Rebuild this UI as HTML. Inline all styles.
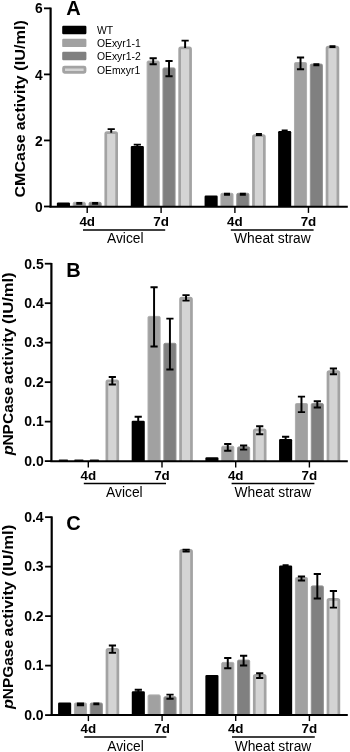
<!DOCTYPE html><html><head><meta charset="utf-8"><style>html,body{margin:0;padding:0;background:#fff}svg{display:block;will-change:transform;filter:grayscale(1)}text{font-family:"Liberation Sans",sans-serif;fill:#000}</style></head><body>
<svg width="350" height="752" viewBox="0 0 350 752">
<rect width="350" height="752" fill="#fff"/>
<clipPath id="cpA"><rect x="0" y="-11.65" width="350" height="218.15"/></clipPath><g clip-path="url(#cpA)">
<rect x="56.88" y="202.40" width="13.10" height="8.10" rx="1.2" fill="#000000"/>
<rect x="73.23" y="202.30" width="12.10" height="8.70" rx="1.2" fill="#a1a1a1" stroke="#adadad" stroke-width="1.0"/>
<path d="M76.28 203.00H82.28M76.28 203.80H82.28M79.28 203.00V203.80" stroke="#000" stroke-width="1.95" fill="none"/>
<rect x="89.08" y="202.30" width="12.10" height="8.70" rx="1.2" fill="#808080" stroke="#939393" stroke-width="1.0"/>
<path d="M92.12 203.00H98.12M92.12 203.80H98.12M95.12 203.00V203.80" stroke="#000" stroke-width="1.95" fill="none"/>
<rect x="105.77" y="132.65" width="10.90" height="79.20" rx="1.2" fill="#d4d4d4" stroke="#a3a3a3" stroke-width="2.7"/>
<path d="M107.62 129.10H114.82M111.22 129.10V132.80" stroke="#000" stroke-width="1.95" fill="none"/>
<rect x="130.77" y="145.90" width="13.10" height="64.60" rx="1.2" fill="#000000"/>
<path d="M133.72 144.60H140.92M133.72 147.20H140.92M137.32 144.60V147.20" stroke="#000" stroke-width="1.95" fill="none"/>
<rect x="147.12" y="61.00" width="12.10" height="150.00" rx="1.2" fill="#a1a1a1" stroke="#adadad" stroke-width="1.0"/>
<path d="M149.57 58.30H156.77M149.57 64.30H156.77M153.17 58.30V64.30" stroke="#000" stroke-width="1.95" fill="none"/>
<rect x="162.97" y="67.90" width="12.10" height="143.10" rx="1.2" fill="#808080" stroke="#939393" stroke-width="1.0"/>
<path d="M165.43 60.90H172.62M165.43 76.30H172.62M169.03 60.90V76.30" stroke="#000" stroke-width="1.95" fill="none"/>
<rect x="179.67" y="47.95" width="10.90" height="163.90" rx="1.2" fill="#d4d4d4" stroke="#a3a3a3" stroke-width="2.7"/>
<path d="M181.53 40.60H188.72M185.12 40.60V48.10" stroke="#000" stroke-width="1.95" fill="none"/>
<rect x="204.57" y="195.60" width="13.10" height="14.90" rx="1.2" fill="#000000"/>
<rect x="220.92" y="193.30" width="12.10" height="17.70" rx="1.2" fill="#a1a1a1" stroke="#adadad" stroke-width="1.0"/>
<path d="M223.97 193.80H229.97M223.97 194.80H229.97M226.97 193.80V194.80" stroke="#000" stroke-width="1.95" fill="none"/>
<rect x="236.78" y="193.30" width="12.10" height="17.70" rx="1.2" fill="#808080" stroke="#939393" stroke-width="1.0"/>
<path d="M239.83 193.80H245.83M239.83 194.80H245.83M242.83 193.80V194.80" stroke="#000" stroke-width="1.95" fill="none"/>
<rect x="253.47" y="135.65" width="10.90" height="76.20" rx="1.2" fill="#d4d4d4" stroke="#a3a3a3" stroke-width="2.7"/>
<path d="M255.93 134.00H261.93M255.93 135.00H261.93M258.93 134.00V135.00" stroke="#000" stroke-width="1.95" fill="none"/>
<rect x="278.12" y="131.00" width="13.10" height="79.50" rx="1.2" fill="#000000"/>
<path d="M281.68 130.40H287.68M281.68 131.70H287.68M284.68 130.40V131.70" stroke="#000" stroke-width="1.95" fill="none"/>
<rect x="294.47" y="62.50" width="12.10" height="148.50" rx="1.2" fill="#a1a1a1" stroke="#adadad" stroke-width="1.0"/>
<path d="M296.92 57.40H304.12M296.92 69.30H304.12M300.52 57.40V69.30" stroke="#000" stroke-width="1.95" fill="none"/>
<rect x="310.32" y="64.10" width="12.10" height="146.90" rx="1.2" fill="#808080" stroke="#939393" stroke-width="1.0"/>
<path d="M313.38 64.30H319.38M313.38 65.30H319.38M316.38 64.30V65.30" stroke="#000" stroke-width="1.95" fill="none"/>
<rect x="327.02" y="47.05" width="10.90" height="164.80" rx="1.2" fill="#d4d4d4" stroke="#a3a3a3" stroke-width="2.7"/>
<path d="M329.47 46.20H335.47M329.47 46.90H335.47M332.47 46.20V46.90" stroke="#000" stroke-width="1.95" fill="none"/>
</g>
<path d="M50.6 7.60V207.25" stroke="#000" stroke-width="2.2" fill="none"/>
<path d="M49.50 206.5H347.8" stroke="#000" stroke-width="2.0" transform="translate(0 0.25)" fill="none"/>
<path d="M44.00 8.35H50.6" stroke="#000" stroke-width="1.8"/>
<text x="42.7" y="13.45" font-size="13.8" font-weight="bold" text-anchor="end">6</text>
<path d="M44.00 74.40H50.6" stroke="#000" stroke-width="1.8"/>
<text x="42.7" y="79.50" font-size="13.8" font-weight="bold" text-anchor="end">4</text>
<path d="M44.00 140.45H50.6" stroke="#000" stroke-width="1.8"/>
<text x="42.7" y="145.55" font-size="13.8" font-weight="bold" text-anchor="end">2</text>
<path d="M44.00 206.50H50.6" stroke="#000" stroke-width="1.8"/>
<text x="42.7" y="211.60" font-size="13.8" font-weight="bold" text-anchor="end">0</text>
<path d="M87.20 206.5V212.90" stroke="#000" stroke-width="1.4"/>
<text x="87.20" y="225.80" font-size="13.4" font-weight="bold" text-anchor="middle">4d</text>
<path d="M161.10 206.5V212.90" stroke="#000" stroke-width="1.4"/>
<text x="161.10" y="225.80" font-size="13.4" font-weight="bold" text-anchor="middle">7d</text>
<path d="M234.90 206.5V212.90" stroke="#000" stroke-width="1.4"/>
<text x="234.90" y="225.80" font-size="13.4" font-weight="bold" text-anchor="middle">4d</text>
<path d="M308.45 206.5V212.90" stroke="#000" stroke-width="1.4"/>
<text x="308.45" y="225.80" font-size="13.4" font-weight="bold" text-anchor="middle">7d</text>
<path d="M83.00 230.10H165.20" stroke="#000" stroke-width="1.5"/>
<path d="M230.80 230.10H313.60" stroke="#000" stroke-width="1.5"/>
<text x="125.3" y="242.80" font-size="13.8" text-anchor="middle">Avicel</text>
<text x="272.4" y="242.80" font-size="13.8" text-anchor="middle">Wheat straw</text>
<text x="66.3" y="14.7" font-size="20" font-weight="bold">A</text>
<text transform="translate(24.8 197.5) rotate(-90) scale(1.1 1)" font-size="14.6" font-weight="bold" >CMCase</text>
<text transform="translate(24.8 130.3) rotate(-90) scale(1.0899 1)" font-size="14.6" font-weight="bold" >activity</text>
<text transform="translate(24.8 70.7) rotate(-90) scale(1.1161 1)" font-size="14.6" font-weight="bold" >(IU/ml)</text>
<clipPath id="cpB"><rect x="0" y="243.70" width="350" height="217.40"/></clipPath><g clip-path="url(#cpB)">
<rect x="57.98" y="461.00" width="13.10" height="4.10" rx="1.2" fill="#000000"/>
<rect x="73.83" y="461.00" width="13.10" height="4.10" rx="1.2" fill="#a1a1a1"/>
<rect x="89.67" y="461.00" width="13.10" height="4.10" rx="1.2" fill="#808080"/>
<rect x="106.87" y="380.85" width="10.90" height="85.60" rx="1.2" fill="#d4d4d4" stroke="#a3a3a3" stroke-width="2.7"/>
<path d="M108.72 376.90H115.92M108.72 384.40H115.92M112.32 376.90V384.40" stroke="#000" stroke-width="1.95" fill="none"/>
<rect x="131.67" y="420.80" width="13.10" height="44.30" rx="1.2" fill="#000000"/>
<path d="M134.62 416.80H141.82M134.62 424.50H141.82M138.22 416.80V424.50" stroke="#000" stroke-width="1.95" fill="none"/>
<rect x="148.02" y="316.40" width="12.10" height="149.20" rx="1.2" fill="#a1a1a1" stroke="#adadad" stroke-width="1.0"/>
<path d="M150.47 287.20H157.67M150.47 346.50H157.67M154.07 287.20V346.50" stroke="#000" stroke-width="1.95" fill="none"/>
<rect x="163.88" y="343.30" width="12.10" height="122.30" rx="1.2" fill="#808080" stroke="#939393" stroke-width="1.0"/>
<path d="M166.33 318.60H173.53M166.33 369.50H173.53M169.93 318.60V369.50" stroke="#000" stroke-width="1.95" fill="none"/>
<rect x="180.57" y="298.05" width="10.90" height="168.40" rx="1.2" fill="#d4d4d4" stroke="#a3a3a3" stroke-width="2.7"/>
<path d="M182.43 295.10H189.62M182.43 300.60H189.62M186.03 295.10V300.60" stroke="#000" stroke-width="1.95" fill="none"/>
<rect x="205.37" y="457.30" width="13.10" height="7.80" rx="1.2" fill="#000000"/>
<rect x="221.72" y="446.20" width="12.10" height="19.40" rx="1.2" fill="#a1a1a1" stroke="#adadad" stroke-width="1.0"/>
<path d="M224.17 444.00H231.37M224.17 450.70H231.37M227.77 444.00V450.70" stroke="#000" stroke-width="1.95" fill="none"/>
<rect x="237.57" y="446.90" width="12.10" height="18.70" rx="1.2" fill="#808080" stroke="#939393" stroke-width="1.0"/>
<path d="M240.03 445.50H247.22M240.03 449.60H247.22M243.62 445.50V449.60" stroke="#000" stroke-width="1.95" fill="none"/>
<rect x="254.27" y="429.95" width="10.90" height="36.50" rx="1.2" fill="#d4d4d4" stroke="#a3a3a3" stroke-width="2.7"/>
<path d="M256.12 426.30H263.32M256.12 434.30H263.32M259.72 426.30V434.30" stroke="#000" stroke-width="1.95" fill="none"/>
<rect x="279.07" y="439.00" width="13.10" height="26.10" rx="1.2" fill="#000000"/>
<path d="M282.02 436.70H289.23M282.02 441.00H289.23M285.62 436.70V441.00" stroke="#000" stroke-width="1.95" fill="none"/>
<rect x="295.42" y="403.50" width="12.10" height="62.10" rx="1.2" fill="#a1a1a1" stroke="#adadad" stroke-width="1.0"/>
<path d="M297.87 396.60H305.07M297.87 412.10H305.07M301.47 396.60V412.10" stroke="#000" stroke-width="1.95" fill="none"/>
<rect x="311.27" y="403.50" width="12.10" height="62.10" rx="1.2" fill="#808080" stroke="#939393" stroke-width="1.0"/>
<path d="M313.72 401.20H320.93M313.72 407.50H320.93M317.32 401.20V407.50" stroke="#000" stroke-width="1.95" fill="none"/>
<rect x="327.97" y="371.65" width="10.90" height="94.80" rx="1.2" fill="#d4d4d4" stroke="#a3a3a3" stroke-width="2.7"/>
<path d="M329.82 368.50H337.02M329.82 374.20H337.02M333.42 368.50V374.20" stroke="#000" stroke-width="1.95" fill="none"/>
<rect x="58.80" y="459.5" width="9.2" height="1.6" rx="0.6" fill="#1a1a1a"/>
<rect x="74.30" y="459.5" width="9.2" height="1.6" rx="0.6" fill="#1a1a1a"/>
<rect x="89.80" y="459.5" width="9.2" height="1.6" rx="0.6" fill="#1a1a1a"/>
</g>
<path d="M51.4 262.95V461.85" stroke="#000" stroke-width="2.2" fill="none"/>
<path d="M50.30 461.1H347.8" stroke="#000" stroke-width="2.0" transform="translate(0 0.1)" fill="none"/>
<path d="M44.80 263.70H51.4" stroke="#000" stroke-width="1.8"/>
<text x="43.8" y="268.50" font-size="14.0" font-weight="bold" text-anchor="end">0.5</text>
<path d="M44.80 303.18H51.4" stroke="#000" stroke-width="1.8"/>
<text x="43.8" y="307.98" font-size="14.0" font-weight="bold" text-anchor="end">0.4</text>
<path d="M44.80 342.66H51.4" stroke="#000" stroke-width="1.8"/>
<text x="43.8" y="347.46" font-size="14.0" font-weight="bold" text-anchor="end">0.3</text>
<path d="M44.80 382.14H51.4" stroke="#000" stroke-width="1.8"/>
<text x="43.8" y="386.94" font-size="14.0" font-weight="bold" text-anchor="end">0.2</text>
<path d="M44.80 421.62H51.4" stroke="#000" stroke-width="1.8"/>
<text x="43.8" y="426.42" font-size="14.0" font-weight="bold" text-anchor="end">0.1</text>
<path d="M44.80 461.10H51.4" stroke="#000" stroke-width="1.8"/>
<text x="43.8" y="465.90" font-size="14.0" font-weight="bold" text-anchor="end">0.0</text>
<path d="M88.30 461.1V467.50" stroke="#000" stroke-width="1.4"/>
<text x="88.30" y="479.70" font-size="13.4" font-weight="bold" text-anchor="middle">4d</text>
<path d="M162.00 461.1V467.50" stroke="#000" stroke-width="1.4"/>
<text x="162.00" y="479.70" font-size="13.4" font-weight="bold" text-anchor="middle">7d</text>
<path d="M235.70 461.1V467.50" stroke="#000" stroke-width="1.4"/>
<text x="235.70" y="479.70" font-size="13.4" font-weight="bold" text-anchor="middle">4d</text>
<path d="M309.40 461.1V467.50" stroke="#000" stroke-width="1.4"/>
<text x="309.40" y="479.70" font-size="13.4" font-weight="bold" text-anchor="middle">7d</text>
<path d="M83.80 483.60H166.00" stroke="#000" stroke-width="1.5"/>
<path d="M231.60 483.60H314.40" stroke="#000" stroke-width="1.5"/>
<text x="124.4" y="496.50" font-size="13.8" text-anchor="middle">Avicel</text>
<text x="272.9" y="496.50" font-size="13.8" text-anchor="middle">Wheat straw</text>
<text x="66.3" y="276.7" font-size="20" font-weight="bold">B</text>
<text transform="translate(13.2 455.3) rotate(-90) scale(1.1169 1)" font-size="14.6" font-weight="bold"  font-style="italic">p</text>
<text transform="translate(13.2 445.6) rotate(-90) scale(1.0643 1)" font-size="14.6" font-weight="bold" >NPCase</text>
<text transform="translate(13.2 384.1) rotate(-90) scale(1.1147 1)" font-size="14.6" font-weight="bold" >activity</text>
<text transform="translate(13.2 324.0) rotate(-90) scale(1.1388 1)" font-size="14.6" font-weight="bold" >(IU/ml)</text>
<clipPath id="cpC"><rect x="0" y="497.15" width="350" height="217.95"/></clipPath><g clip-path="url(#cpC)">
<rect x="58.08" y="702.50" width="13.10" height="16.60" rx="1.2" fill="#000000"/>
<rect x="74.43" y="703.00" width="12.10" height="16.60" rx="1.2" fill="#a1a1a1" stroke="#adadad" stroke-width="1.0"/>
<path d="M76.88 703.40H84.08M76.88 705.20H84.08M80.48 703.40V705.20" stroke="#000" stroke-width="1.95" fill="none"/>
<rect x="90.28" y="703.00" width="12.10" height="16.60" rx="1.2" fill="#808080" stroke="#939393" stroke-width="1.0"/>
<path d="M93.33 703.50H99.33M93.33 704.30H99.33M96.33 703.50V704.30" stroke="#000" stroke-width="1.95" fill="none"/>
<rect x="106.98" y="649.45" width="10.90" height="71.00" rx="1.2" fill="#d4d4d4" stroke="#a3a3a3" stroke-width="2.7"/>
<path d="M108.83 645.40H116.03M108.83 652.70H116.03M112.43 645.40V652.70" stroke="#000" stroke-width="1.95" fill="none"/>
<rect x="131.77" y="691.30" width="13.10" height="27.80" rx="1.2" fill="#000000"/>
<path d="M134.72 689.70H141.92M134.72 692.50H141.92M138.32 689.70V692.50" stroke="#000" stroke-width="1.95" fill="none"/>
<rect x="148.12" y="694.90" width="12.10" height="24.70" rx="1.2" fill="#a1a1a1" stroke="#adadad" stroke-width="1.0"/>
<rect x="163.97" y="696.70" width="12.10" height="22.90" rx="1.2" fill="#808080" stroke="#939393" stroke-width="1.0"/>
<path d="M166.43 694.60H173.62M166.43 698.70H173.62M170.03 694.60V698.70" stroke="#000" stroke-width="1.95" fill="none"/>
<rect x="180.67" y="550.35" width="10.90" height="170.10" rx="1.2" fill="#d4d4d4" stroke="#a3a3a3" stroke-width="2.7"/>
<path d="M182.53 549.60H189.72M182.53 551.60H189.72M186.12 549.60V551.60" stroke="#000" stroke-width="1.95" fill="none"/>
<rect x="205.37" y="674.90" width="13.10" height="44.20" rx="1.2" fill="#000000"/>
<rect x="221.72" y="662.40" width="12.10" height="57.20" rx="1.2" fill="#a1a1a1" stroke="#adadad" stroke-width="1.0"/>
<path d="M224.17 658.00H231.37M224.17 668.20H231.37M227.77 658.00V668.20" stroke="#000" stroke-width="1.95" fill="none"/>
<rect x="237.57" y="660.10" width="12.10" height="59.50" rx="1.2" fill="#808080" stroke="#939393" stroke-width="1.0"/>
<path d="M240.03 655.80H247.22M240.03 665.40H247.22M243.62 655.80V665.40" stroke="#000" stroke-width="1.95" fill="none"/>
<rect x="254.27" y="675.35" width="10.90" height="45.10" rx="1.2" fill="#d4d4d4" stroke="#a3a3a3" stroke-width="2.7"/>
<path d="M256.12 673.30H263.32M256.12 677.90H263.32M259.72 673.30V677.90" stroke="#000" stroke-width="1.95" fill="none"/>
<rect x="279.07" y="565.60" width="13.10" height="153.50" rx="1.2" fill="#000000"/>
<path d="M282.62 565.20H288.62M282.62 566.20H288.62M285.62 565.20V566.20" stroke="#000" stroke-width="1.95" fill="none"/>
<rect x="295.42" y="577.50" width="12.10" height="142.10" rx="1.2" fill="#a1a1a1" stroke="#adadad" stroke-width="1.0"/>
<path d="M297.87 576.40H305.07M297.87 580.40H305.07M301.47 576.40V580.40" stroke="#000" stroke-width="1.95" fill="none"/>
<rect x="311.27" y="585.90" width="12.10" height="133.70" rx="1.2" fill="#808080" stroke="#939393" stroke-width="1.0"/>
<path d="M313.72 574.00H320.93M313.72 598.50H320.93M317.32 574.00V598.50" stroke="#000" stroke-width="1.95" fill="none"/>
<rect x="327.97" y="599.35" width="10.90" height="121.10" rx="1.2" fill="#d4d4d4" stroke="#a3a3a3" stroke-width="2.7"/>
<path d="M329.82 591.00H337.02M329.82 607.60H337.02M333.42 591.00V607.60" stroke="#000" stroke-width="1.95" fill="none"/>
</g>
<path d="M51.7 516.40V715.85" stroke="#000" stroke-width="2.2" fill="none"/>
<path d="M50.60 715.1H347.8" stroke="#000" stroke-width="2.0" transform="translate(0 0)" fill="none"/>
<path d="M45.10 517.15H51.7" stroke="#000" stroke-width="1.8"/>
<text x="43.6" y="521.85" font-size="14.0" font-weight="bold" text-anchor="end">0.4</text>
<path d="M45.10 566.64H51.7" stroke="#000" stroke-width="1.8"/>
<text x="43.6" y="571.34" font-size="14.0" font-weight="bold" text-anchor="end">0.3</text>
<path d="M45.10 616.12H51.7" stroke="#000" stroke-width="1.8"/>
<text x="43.6" y="620.83" font-size="14.0" font-weight="bold" text-anchor="end">0.2</text>
<path d="M45.10 665.61H51.7" stroke="#000" stroke-width="1.8"/>
<text x="43.6" y="670.31" font-size="14.0" font-weight="bold" text-anchor="end">0.1</text>
<path d="M45.10 715.10H51.7" stroke="#000" stroke-width="1.8"/>
<text x="43.6" y="719.80" font-size="14.0" font-weight="bold" text-anchor="end">0.0</text>
<path d="M88.40 715.1V721.10" stroke="#000" stroke-width="1.4"/>
<text x="88.40" y="733.30" font-size="13.4" font-weight="bold" text-anchor="middle">4d</text>
<path d="M162.10 715.1V721.10" stroke="#000" stroke-width="1.4"/>
<text x="162.10" y="733.30" font-size="13.4" font-weight="bold" text-anchor="middle">7d</text>
<path d="M235.70 715.1V721.10" stroke="#000" stroke-width="1.4"/>
<text x="235.70" y="733.30" font-size="13.4" font-weight="bold" text-anchor="middle">4d</text>
<path d="M309.40 715.1V721.10" stroke="#000" stroke-width="1.4"/>
<text x="309.40" y="733.30" font-size="13.4" font-weight="bold" text-anchor="middle">7d</text>
<path d="M84.20 737.00H166.40" stroke="#000" stroke-width="1.5"/>
<path d="M232.00 737.00H314.80" stroke="#000" stroke-width="1.5"/>
<text x="125.5" y="751.00" font-size="13.8" text-anchor="middle">Avicel</text>
<text x="273.0" y="751.00" font-size="13.8" text-anchor="middle">Wheat straw</text>
<text x="66.3" y="530.1" font-size="20" font-weight="bold">C</text>
<text transform="translate(13.2 709.0) rotate(-90) scale(1.1169 1)" font-size="14.6" font-weight="bold"  font-style="italic">p</text>
<text transform="translate(13.2 699.2) rotate(-90) scale(1.0589 1)" font-size="14.6" font-weight="bold" >NPGase</text>
<text transform="translate(13.2 636.4) rotate(-90) scale(1.095 1)" font-size="14.6" font-weight="bold" >activity</text>
<text transform="translate(13.2 576.6) rotate(-90) scale(1.1421 1)" font-size="14.6" font-weight="bold" >(IU/ml)</text>
<rect x="62.2" y="25.80" width="24.2" height="8.4" rx="1.2" fill="#000000"/>
<text transform="translate(96.9 34.40) scale(0.945 1)" font-size="11">WT</text>
<rect x="62.2" y="38.70" width="24.2" height="8.4" rx="1.2" fill="#a1a1a1"/>
<text transform="translate(96.9 47.30) scale(0.945 1)" font-size="11">OExyr1-1</text>
<rect x="62.2" y="51.80" width="24.2" height="8.4" rx="1.2" fill="#808080"/>
<text transform="translate(96.9 60.40) scale(0.945 1)" font-size="11">OExyr1-2</text>
<rect x="63.6" y="67.10" width="21.4" height="5.2" rx="1" fill="#d4d4d4" stroke="#a3a3a3" stroke-width="2.8"/>
<text transform="translate(96.9 74.20) scale(0.945 1)" font-size="11">OEmxyr1</text>
</svg></body></html>
